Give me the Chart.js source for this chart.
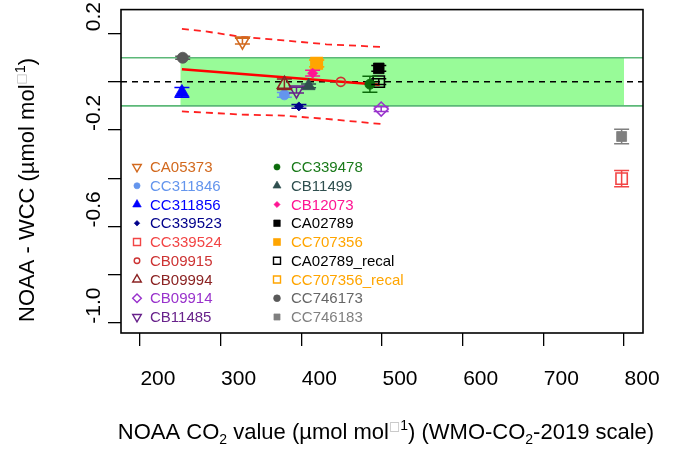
<!DOCTYPE html>
<html>
<head>
<meta charset="utf-8">
<script src="https://cdn.jsdelivr.net/npm/chart.js@4.4.1/dist/chart.umd.min.js"></script>
<style>
  body { margin: 0; background: #fff; }
  #wrap { width: 679px; height: 450px; }
</style>
</head>
<body>
<div id="wrap"><canvas id="chart" width="679" height="450"></canvas></div>
<script>
// cylinder series: name, NOAA value, NOAA - WCC difference, uncertainty
const names = ["CA05373", "CC311846", "CC311856", "CC339523", "CC339524", "CB09915",
  "CB09994", "CB09914", "CB11485", "CC339478", "CB11499", "CB12073", "CA02789",
  "CC707356", "CA02789_recal", "CC707356_recal", "CC746173", "CC746183"];
const xVals = [327, 379, 252, 397, 797, 449, 379, 499, 394, 485, 409, 414, 496, 419, 496, 419, 253, 797];
const yVals = [0.169, -0.054, -0.044, -0.102, -0.402, 0.0, -0.010, -0.113, -0.034, -0.010,
  -0.017, 0.036, 0.056, 0.077, 0.001, 0.077, 0.100, -0.227];
const yErr = [0.012, 0.010, 0.020, 0.008, 0.034, 0, 0.022, 0.010, 0.012, 0.033,
  0.008, 0.012, 0.012, 0.014, 0.012, 0.014, 0.006, 0.030];

// fit and its confidence band
const fitX = [252, 497];
const fitY = [0.052, -0.012];
const ciX = [252, 278, 326, 378, 431, 499];
const ciUpper = [0.220, 0.211, 0.187, 0.172, 0.156, 0.145];
const ciLower = [-0.123, -0.127, -0.136, -0.140, -0.154, -0.175];

// +-0.1 compatibility band
const bandX = [250, 800];
const bandHigh = 0.1;
const bandLow = -0.1;

const xTicks = [200, 300, 400, 500, 600, 700, 800];
const yTicks = [0.2, 0, -0.2, -0.4, -0.6, -0.8, -1.0];
const yTickLabels = ["0.2", "-0.2", "-0.6", "-1.0"];

const xMin = 176.5, xMax = 823.5, yMin = -1.043, yMax = 0.30;

// marker styles
const colors = ["#D2691E", "#6495ED", "#0000FF", "#00008B", "#F24545", "#CD3333",
  "#8B2323", "#9932CC", "#68228B", "#0B6B0B", "#2F4F4F", "#FF1493", "#000000",
  "#FFA500", "#000000", "#FFA500", "#595959", "#7F7F7F"];
const textColors = ["#D2691E", "#6495ED", "#0000FF", "#00008B", "#F24545", "#CD3333",
  "#8B2323", "#9932CC", "#68228B", "#1A7A1A", "#2F4F4F", "#FF1493", "#000000",
  "#FFA500", "#000000", "#FFA500", "#666666", "#808080"];
const shapes = ["triangle", "circle", "triangle", "rectRot", "rect", "circle", "triangle",
  "rectRot", "triangle", "circle", "triangle", "rectRot", "rect", "rect", "rect", "rect",
  "circle", "rect"];
const rotations = [180, 0, 0, 0, 0, 0, 0, 0, 180, 0, 0, 0, 0, 0, 0, 0, 0, 0];
const filled = [false, true, true, true, false, false, false, false, false, true, true, true,
  true, true, false, false, true, true];
const radii = [8, 5, 8, 4.5, 8, 4.5, 8, 7, 8, 5, 7.5, 5, 7.5, 8, 8, 8, 5.5, 7];

const FONT = '"Liberation Sans", Arial, sans-serif';

const xy = (xs, ys) => xs.map((x, i) => ({ x: x, y: ys[i] }));

const datasets = [];
names.forEach((n, i) => {
  datasets.push({
    type: "scatter",
    label: n,
    data: [{ x: xVals[i], y: yVals[i] }],
    pointStyle: shapes[i],
    pointRadius: radii[i],
    pointRotation: rotations[i],
    backgroundColor: filled[i] ? colors[i] : "rgba(0,0,0,0)",
    borderColor: colors[i],
    borderWidth: filled[i] ? 0.8 : 1.6,
    order: 1,
  });
});
const lineSet = (data, color, width, dash, order) => ({
  type: "line",
  data: data,
  borderColor: color,
  borderWidth: width,
  borderDash: dash,
  pointRadius: 0,
  fill: false,
  order: order,
});
datasets.push({
  type: "line",
  data: xy(bandX, [bandHigh, bandHigh]),
  borderWidth: 0,
  pointRadius: 0,
  backgroundColor: "#98FB98",
  fill: { value: bandLow },
  order: 10,
});
datasets.push(lineSet(xy([xMin, xMax], [bandHigh, bandHigh]), "#5CB878", 1.6, [], 9));
datasets.push(lineSet(xy([xMin, xMax], [bandLow, bandLow]), "#5CB878", 1.6, [], 9));
datasets.push(lineSet(xy([xMin, xMax], [0, 0]), "#000000", 1.5, [6, 5], 8));
datasets.push(lineSet(xy(fitX, fitY), "#FF0000", 2.4, [], 7));
datasets.push(lineSet(xy(ciX, ciUpper), "#FF2020", 1.8, [7, 5], 7));
datasets.push(lineSet(xy(ciX, ciLower), "#FF2020", 1.8, [7, 5], 7));

function richText(ctx, parts, cx, base) {
  let total = 0;
  parts.forEach((p) => {
    ctx.font = p.size + "px " + (p.family || FONT);
    p.w = ctx.measureText(p.t).width;
    total += p.w;
  });
  let x = cx - total / 2;
  ctx.textAlign = "left";
  ctx.textBaseline = "alphabetic";
  parts.forEach((p) => {
    ctx.font = p.size + "px " + (p.family || FONT);
    ctx.fillStyle = p.color || "#000";
    ctx.fillText(p.t, x, base + (p.dy || 0));
    x += p.w;
  });
}

function marker(ctx, style, r, rot, x, y) {
  if (Chart.helpers && Chart.helpers.drawPoint) {
    Chart.helpers.drawPoint(ctx, { pointStyle: style, radius: r, rotation: rot, borderWidth: 1 }, x, y);
  }
}

const decorations = {
  id: "decorations",
  afterDatasetsDraw(chart) {
    const ctx = chart.ctx, xs = chart.scales.x, ys = chart.scales.y;
    ctx.save();
    names.forEach((n, i) => {
      if (!yErr[i]) return;
      const px = xs.getPixelForValue(xVals[i]);
      const top = ys.getPixelForValue(yVals[i] + yErr[i]);
      const bot = ys.getPixelForValue(yVals[i] - yErr[i]);
      ctx.strokeStyle = colors[i];
      ctx.lineWidth = 1.5;
      ctx.beginPath();
      ctx.moveTo(px, top); ctx.lineTo(px, bot);
      ctx.moveTo(px - 7.5, top); ctx.lineTo(px + 7.5, top);
      ctx.moveTo(px - 7.5, bot); ctx.lineTo(px + 7.5, bot);
      ctx.stroke();
    });
    ctx.restore();
  },
  afterDraw(chart) {
    const ctx = chart.ctx, a = chart.chartArea, ys = chart.scales.y;
    ctx.save();
    // box
    ctx.strokeStyle = "#000";
    ctx.lineWidth = 1.6;
    ctx.strokeRect(a.left, a.top, a.right - a.left, a.bottom - a.top);

    // y tick labels, rotated like R's las=0
    ctx.fillStyle = "#000";
    ctx.font = "21px " + FONT;
    ctx.textAlign = "center";
    ctx.textBaseline = "alphabetic";
    yTickLabels.forEach((lab) => {
      const py = ys.getPixelForValue(parseFloat(lab)) - 17;
      ctx.save();
      ctx.translate(100, py);
      ctx.rotate(-Math.PI / 2);
      ctx.fillText(lab, 0, 0);
      ctx.restore();
    });

    // axis titles
    const tofu = { t: "\u25A1", size: 12, dy: -9, color: "#bbbbbb", family: '"DejaVu Sans", sans-serif' };
    richText(ctx, [
      { t: "NOAA CO", size: 22 },
      { t: "2", size: 14, dy: 5 },
      { t: " value (\u00B5mol mol", size: 22 },
      tofu,
      { t: "1", size: 14, dy: -9 },
      { t: ") (WMO-CO", size: 22 },
      { t: "2", size: 14, dy: 5 },
      { t: "-2019 scale)", size: 22 },
    ], 386, 439);

    ctx.save();
    ctx.translate(34, 190);
    ctx.rotate(-Math.PI / 2);
    richText(ctx, [
      { t: "NOAA - WCC (\u00B5mol mol", size: 22 },
      Object.assign({}, tofu),
      { t: "1", size: 14, dy: -9 },
      { t: ")", size: 22 },
    ], 0, 0);
    ctx.restore();

    // legend, two columns
    names.forEach((n, i) => {
      const col = i < 9 ? 0 : 1;
      const row = i % 9;
      const y = 167 + row * 18.75;
      const mx = col ? 277 : 137;
      const tx = col ? 291 : 150;
      ctx.fillStyle = filled[i] ? colors[i] : "rgba(0,0,0,0)";
      ctx.strokeStyle = colors[i];
      ctx.lineWidth = filled[i] ? 0.6 : 1.4;
      marker(ctx, shapes[i], radii[i] * 0.62, rotations[i], mx, y);
      ctx.fillStyle = textColors[i];
      ctx.font = "15px " + FONT;
      ctx.textAlign = "left";
      ctx.textBaseline = "middle";
      ctx.fillText(n, tx, y + 1);
    });
    ctx.restore();
  },
};

new Chart(document.getElementById("chart"), {
  type: "scatter",
  data: { datasets: datasets },
  options: {
    responsive: false,
    animation: false,
    layout: { padding: { left: 0, top: 8, right: 36, bottom: 0 } },
    plugins: { legend: { display: false }, tooltip: { enabled: false } },
    scales: {
      x: {
        type: "linear",
        min: xMin,
        max: xMax,
        afterBuildTicks: (s) => { s.ticks = xTicks.map((v) => ({ value: v })); },
        afterFit: (s) => { s.height = 117; },
        grid: { drawOnChartArea: false, tickLength: 13, color: "#000", lineWidth: 1.3 },
        border: { display: false },
        ticks: {
          color: "#000",
          font: { family: FONT, size: 21 },
          labelOffset: 18,
          padding: 21,
          maxRotation: 0,
          callback: (v) => String(v),
        },
      },
      y: {
        type: "linear",
        min: yMin,
        max: yMax,
        afterBuildTicks: (s) => { s.ticks = yTicks.map((v) => ({ value: v })); },
        afterFit: (s) => { s.width = 121; },
        grid: { drawOnChartArea: false, tickLength: 13, color: "#000", lineWidth: 1.3 },
        border: { display: false },
        ticks: { display: false },
      },
    },
  },
  plugins: [decorations],
});
</script>
</body>
</html>
